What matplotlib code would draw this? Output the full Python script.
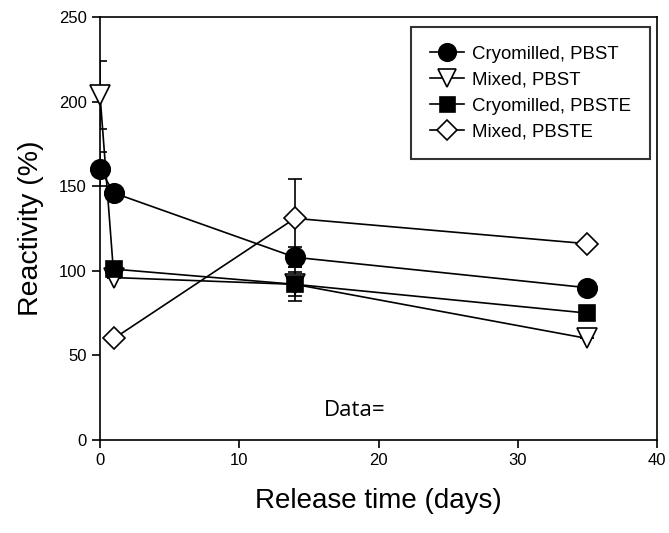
import matplotlib
matplotlib.use("Agg")
import matplotlib.pyplot as plt
import numpy as np

plt.rcParams['font.family'] = ['Liberation Sans', 'DejaVu Sans']

days_cryo_pbst = [0, 1, 14, 35]
cryo_pbst = [160, 146, 108, 90]
cryo_pbst_err = [10, 0, 6, 0]

days_mixed_pbst = [0, 1, 14, 35]
mixed_pbst = [204, 96, 92, 60]
mixed_pbst_err = [20, 0, 10, 0]

days_cryo_pbste = [1, 14, 35]
cryo_pbste = [101, 92, 75]
cryo_pbste_err = [0, 7, 0]

days_mixed_pbste = [1, 14, 35]
mixed_pbste = [60, 131, 116]
mixed_pbste_err = [0, 23, 0]

labels = ["Cryomilled, PBST", "Mixed, PBST", "Cryomilled, PBSTE", "Mixed, PBSTE"]
xticks = [0, 10, 20, 30, 40]
yticks = [0, 50, 100, 150, 200, 250]

fig = plt.figure(figsize=(6.69, 5.33), dpi=100)
ax = fig.add_axes([100/669, 93/533, 557/669, 423/533])

series = [
    (days_cryo_pbst, cryo_pbst, cryo_pbst_err, 'o', 'black', 14),
    (days_mixed_pbst, mixed_pbst, mixed_pbst_err, 'v', 'white', 14),
    (days_cryo_pbste, cryo_pbste, cryo_pbste_err, 's', 'black', 12),
    (days_mixed_pbste, mixed_pbste, mixed_pbste_err, 'D', 'white', 11),
]

for (x, y, e, m, fc, ms), lab in zip(series, labels):
    yerr = np.array(e, dtype=float)
    ax.errorbar(x, y, yerr=yerr, fmt='none', ecolor='black', elinewidth=1.2,
                capsize=5, capthick=1.2, zorder=2)
    ax.plot(x, y, color='black', lw=1.2, marker=m, markersize=ms,
            markerfacecolor=fc, markeredgecolor='black', markeredgewidth=1.2,
            label=lab, zorder=3, clip_on=False)

ax.set_xlim(0, 40)
ax.set_ylim(0, 250)
ax.set_xticks(xticks)
ax.set_yticks(yticks)
ax.tick_params(direction='out', length=6, width=1.2, labelsize=12)
for s in ax.spines.values():
    s.set_linewidth(1.2)

ax.set_xlabel("Release time (days)", fontsize=20, labelpad=14)
ax.set_ylabel("Reactivity (%)", fontsize=20.5, labelpad=11)

leg = ax.legend(loc='upper right', bbox_to_anchor=(0.9874, 0.976), fontsize=13.4,
                frameon=True, fancybox=False, edgecolor='black', borderpad=1.0,
                handlelength=1.85, labelspacing=0.48, handletextpad=0.45,
                borderaxespad=0, markerscale=0.9)
leg.get_frame().set_linewidth(1.5)

ax.text(18.3, 17.5, "Data=", fontsize=16, family=['Open Sans', 'DejaVu Sans'],
        ha='center', va='center')

fig.savefig("out.png", dpi=100)
